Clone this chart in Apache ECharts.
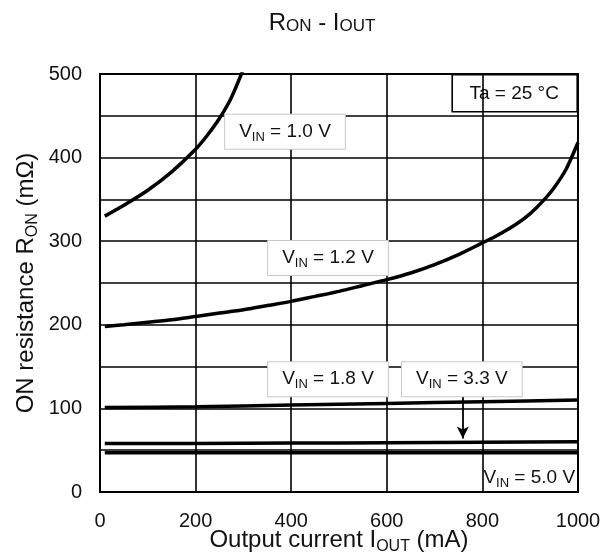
<!DOCTYPE html>
<html>
<head>
<meta charset="utf-8">
<script src="https://cdn.jsdelivr.net/npm/echarts@6/dist/echarts.min.js"></script>
<style>
  html, body { margin: 0; padding: 0; background: #fff; }
  #chart { width: 614px; height: 559px; }
</style>
</head>
<body>
<div id="chart"></div>
<script>
// Output current (mA) and ON resistance (mΩ) for each input voltage
const iout_10 = [10, 50, 100, 150, 200, 225, 250, 275, 300];
const ron_10 = [330, 343, 361, 383, 410, 427, 447, 472, 506];

const iout_12 = [10, 50, 100, 150, 200, 250, 300, 350, 400, 450, 500, 550, 600, 650, 700, 750,
                 800, 825, 850, 875, 900, 925, 950, 975, 1000];
const ron_12 = [198, 200, 203, 206, 210, 214, 218, 223, 228, 234, 240, 247, 254, 262, 272, 284,
                298, 305, 313, 322, 333, 347, 364, 386, 418];

const iout_flat = [10, 200, 400, 600, 800, 1000];
const ron_18 = [101, 102, 104, 106, 108, 110];
const ron_33 = [58, 58, 58.5, 59, 59.5, 60];
const ron_50 = [47, 47, 47, 47, 47, 47];

const vinLabels = ['1.0 V', '1.2 V', '1.8 V', '3.3 V', '5.0 V'];

const FONT = 'Liberation Sans, Arial, sans-serif';
const TXT = '#111';

function pairs(xs, ys) { return xs.map((x, i) => [x, ys[i]]); }

const subRich = {
  v: { fontFamily: FONT, fontSize: 19, color: TXT, lineHeight: 24, verticalAlign: 'middle' },
  sub: { fontFamily: FONT, fontSize: 13, color: TXT, lineHeight: 13, verticalAlign: 'bottom' }
};

function vinText(v) { return '{v|V}{sub|IN}{v| = ' + v + '}'; }

function boxLabel(coord, v, boxed) {
  return {
    coord: coord,
    symbol: 'rect',
    symbolSize: 1,
    itemStyle: { color: 'rgba(0,0,0,0)' },
    label: {
      show: true,
      position: 'inside',
      formatter: vinText(v),
      rich: subRich,
      backgroundColor: boxed ? '#fff' : 'transparent',
      borderColor: boxed ? '#c8c8c8' : 'transparent',
      borderWidth: boxed ? 1 : 0,
      padding: boxed ? [5, 14, 5, 14] : 0
    }
  };
}

function curve(name, xs, ys, marks, extra) {
  return Object.assign({
    name: name,
    type: 'line',
    data: pairs(xs, ys),
    smooth: 0.25,
    showSymbol: false,
    silent: true,
    clip: true,
    lineStyle: { color: '#000', width: 3.5 },
    markPoint: marks ? { silent: true, data: marks } : undefined
  }, extra || {});
}

const axisNameStyle = {
  rich: {
    a: { fontFamily: FONT, fontSize: 24, color: TXT, lineHeight: 30, verticalAlign: 'middle' },
    s: { fontFamily: FONT, fontSize: 16, color: TXT, lineHeight: 16, verticalAlign: 'bottom' }
  }
};

const chart = echarts.init(document.getElementById('chart'), null, { renderer: 'canvas' });

chart.setOption({
  animation: false,
  backgroundColor: '#fff',
  title: {
    text: '{b|R}{s|ON}{b| - I}{s|OUT}',
    left: 317,
    top: 2,
    textAlign: 'center',
    textStyle: {
      fontWeight: 'normal',
      rich: {
        b: { fontFamily: FONT, fontWeight: 'normal', fontSize: 24, color: TXT, verticalAlign: 'bottom', lineHeight: 28 },
        s: { fontFamily: FONT, fontWeight: 'normal', fontSize: 17, color: TXT, verticalAlign: 'bottom', lineHeight: 22 }
      }
    }
  },
  grid: {
    left: 100, right: 36, top: 74, bottom: 67,
    containLabel: false,
    outerBoundsMode: 'none',
    show: true, borderColor: '#000', borderWidth: 2
  },
  xAxis: {
    type: 'value',
    min: 0, max: 1000, interval: 200,
    name: '{a|Output current I}{s|OUT}{a| (mA)}',
    nameLocation: 'middle',
    nameGap: 33,
    nameMoveOverlap: false,
    nameTextStyle: axisNameStyle,
    axisLine: { show: true, lineStyle: { color: '#000', width: 2 } },
    axisTick: { show: false },
    axisLabel: {
      fontFamily: FONT, fontSize: 20, color: TXT, margin: 19,
      formatter: function (v) { return String(v); }
    },
    splitLine: { show: true, lineStyle: { color: '#000', width: 1.6 } }
  },
  yAxis: {
    type: 'value',
    min: 0, max: 500, interval: 50,
    name: '{a|ON resistance R}{s|ON}{a| (mΩ)}',
    nameLocation: 'middle',
    nameGap: 59,
    nameMoveOverlap: false,
    nameTextStyle: axisNameStyle,
    axisLine: { show: true, lineStyle: { color: '#000', width: 2 } },
    axisTick: { show: false },
    axisLabel: {
      fontFamily: FONT, fontSize: 20, color: TXT, margin: 18,
      formatter: function (v) { return v % 100 === 0 ? String(v) : ''; }
    },
    splitLine: { show: true, lineStyle: { color: '#000', width: 1.6 } }
  },
  series: [
    curve('VIN 1.0 V', iout_10, ron_10, [boxLabel([387, 431], vinLabels[0], true)]),
    curve('VIN 1.2 V', iout_12, ron_12, [boxLabel([477, 280], vinLabels[1], true)]),
    curve('VIN 1.8 V', iout_flat, ron_18, [boxLabel([477, 135], vinLabels[2], true)]),
    curve('VIN 3.3 V', iout_flat, ron_33, [boxLabel([757, 135], vinLabels[3], true)], {
      markLine: {
        silent: true,
        symbol: ['none', 'arrow'],
        symbolSize: [9, 12],
        label: { show: false },
        lineStyle: { color: '#000', width: 1.8, type: 'solid' },
        data: [[{ coord: [759, 121] }, { coord: [759, 64] }]]
      }
    }),
    curve('VIN 5.0 V', iout_flat, ron_50, [boxLabel([898, 17], vinLabels[4], false)])
  ],
  graphic: [{
    type: 'group',
    right: 36,
    top: 74,
    z: 100,
    children: [
      {
        type: 'rect',
        shape: { x: 0, y: 0, width: 125, height: 37 },
        style: { fill: '#fff', stroke: '#000', lineWidth: 1.6 }
      },
      {
        type: 'text',
        x: 62, y: 19,
        style: {
          text: 'Ta = 25 °C',
          font: '19px ' + FONT,
          fill: TXT,
          align: 'center',
          verticalAlign: 'middle'
        }
      }
    ]
  }]
});
</script>
</body>
</html>
